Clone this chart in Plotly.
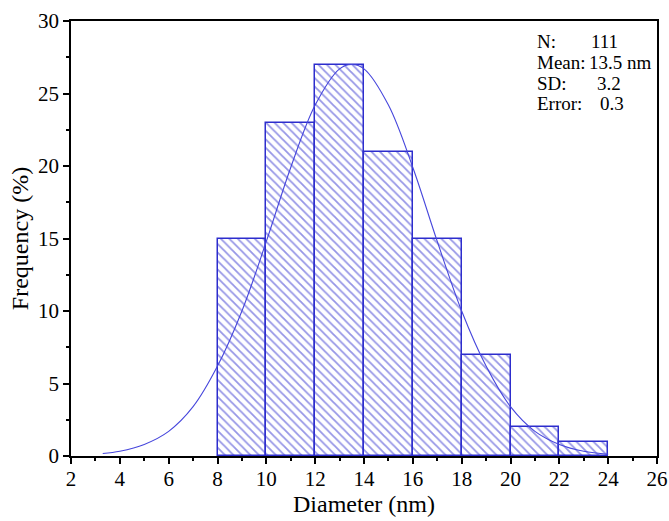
import plotly.graph_objects as go

# histogram bins (nm) and frequency (%)
bin_left = [8, 10, 12, 14, 16, 18, 20, 22]
freq = [15, 23, 27, 21, 15, 7, 2, 1]

# fitted distribution curve
fit_x = [3.3, 4, 5, 6, 7, 8, 9, 10, 11, 12, 13, 13.5, 14, 15, 16, 17, 18, 19, 20, 21, 22, 23, 24]
fit_y = [0.17, 0.33, 0.8, 1.7, 3.4, 6.2, 10.0, 14.8, 19.9, 24.2, 26.7, 27.0, 26.7, 24.2, 19.9,
         14.8, 10.0, 6.2, 3.4, 1.7, 0.8, 0.33, 0.12]

stat_labels = ["N:", "Mean:", "SD:", "Error:"]
stat_values = ["111", "13.5 nm", "3.2", "0.3"]

blue = "rgb(45,45,205)"
font = "Liberation Serif"

W, H = 669, 521
L, R, T, B = 71, 12, 21, 65
pw, ph = W - L - R, H - T - B

fig = go.Figure()
fig.add_trace(go.Bar(
    x=[b + 1 for b in bin_left], y=freq, width=2,
    marker=dict(color="white", line=dict(color=blue, width=1.5),
                pattern=dict(shape="\\", fgcolor=blue, bgcolor="white", size=6, solidity=0.3)),
    showlegend=False))
fig.add_trace(go.Scatter(x=fit_x, y=fit_y, mode="lines", line=dict(color="rgb(70,70,220)", width=1.1, shape="spline"),
                         showlegend=False))

# stats box text (x positions in window pixels)
val_x = [591, 589, 597, 600]
for i, (lab, val) in enumerate(zip(stat_labels, stat_values)):
    yy = 1 - (21 + 20.5 * i) / ph
    fig.add_annotation(x=(537 - L) / pw, y=yy, xref="paper", yref="paper", text=lab, showarrow=False,
                       xanchor="left", yanchor="middle", xshift=-2, font=dict(family=font, size=19, color="black"))
    fig.add_annotation(x=(val_x[i] - L) / pw, y=yy, xref="paper", yref="paper", text=val, showarrow=False,
                       xanchor="left", yanchor="middle", xshift=-2, font=dict(family=font, size=19, color="black"))

axis_common = dict(showline=True, linecolor="black", linewidth=1.5, mirror=True, ticks="outside",
                   ticklen=6, tickwidth=1.5, tickcolor="black", showgrid=False, zeroline=False,
                   automargin=False, tickfont=dict(family=font, size=21, color="black"))
fig.update_xaxes(range=[2, 26], dtick=2, tick0=2, ticklabelstandoff=-3,
                 minor=dict(ticks="outside", dtick=1, ticklen=3, tickcolor="black", tickwidth=1.5),
                 title=dict(text="Diameter (nm)", font=dict(family=font, size=24, color="black"), standoff=2),
                 **axis_common)
fig.update_yaxes(range=[0, 30], dtick=5,
                 minor=dict(ticks="outside", dtick=2.5, ticklen=3, tickcolor="black", tickwidth=1.5),
                 title=dict(text="Frequency (%)", font=dict(family=font, size=24, color="black"), standoff=3),
                 **axis_common)
fig.update_layout(width=W, height=H, margin=dict(l=L, r=R, t=T, b=B),
                  plot_bgcolor="white", paper_bgcolor="white", bargap=0)
# drop the default page margin so the figure fills the window
fig.write_html("out.html", config={"displayModeBar": False},
               post_script="document.body.style.margin='0';")
